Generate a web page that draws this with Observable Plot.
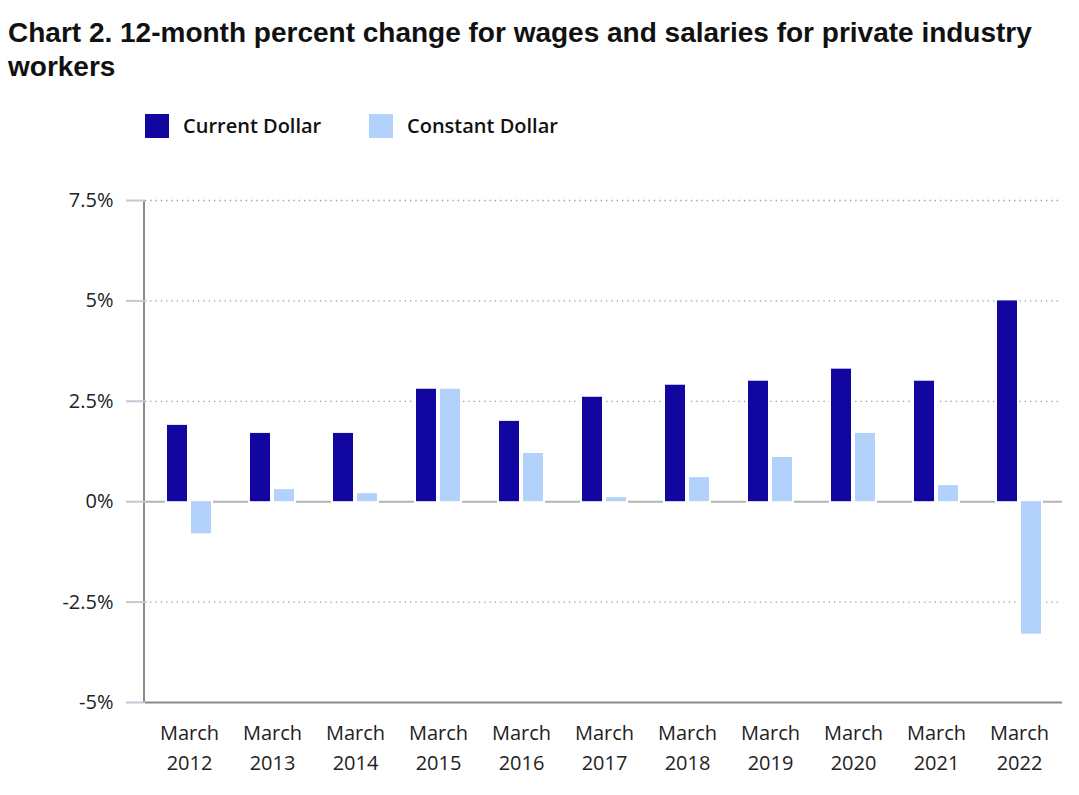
<!DOCTYPE html>
<html>
<head>
<meta charset="utf-8">
<script src="https://cdn.jsdelivr.net/npm/d3@7"></script>
<script src="https://cdn.jsdelivr.net/npm/@observablehq/plot@0.6"></script>
<style>
  html, body { margin: 0; padding: 0; background: white; }
  body { position: relative; width: 1079px; height: 795px; overflow: hidden; }
  #title { position: absolute; left: 8px; top: 16px; width: 1060px; font-family: "Liberation Sans", Arial, sans-serif; font-weight: bold; font-size: 28px; line-height: 34px; color: #111; }
  .sw { position: absolute; width: 24px; height: 24px; top: 114px; }
  .lt { position: absolute; top: 111px; font-family: "Open Sans", sans-serif; font-weight: 600; font-size: 20px; line-height: 30px; color: #111; }
  #chart { position: absolute; left: 0; top: 160px; }
</style>
</head>
<body>
<div id="title">Chart 2. 12-month percent change for wages and salaries for private industry workers</div>
<div id="legend"></div>
<div id="chart"></div>
<script>
const years = ["2012","2013","2014","2015","2016","2017","2018","2019","2020","2021","2022"];
const currentDollar = [1.9, 1.7, 1.7, 2.8, 2.0, 2.6, 2.9, 3.0, 3.3, 3.0, 5.0];
const constantDollar = [-0.8, 0.3, 0.2, 2.8, 1.2, 0.1, 0.6, 1.1, 1.7, 0.4, -3.3];
const seriesNames = ["Current Dollar", "Constant Dollar"];
const seriesColors = ["#1106a0", "#b2d2fb"];
const yTicks = [-5, -2.5, 0, 2.5, 5, 7.5];

// legend
const legend = document.getElementById("legend");
const swX = [145, 369], txX = [183, 407];
seriesNames.forEach((n, i) => {
  const s = document.createElement("div");
  s.className = "sw"; s.style.left = swX[i] + "px"; s.style.background = seriesColors[i];
  legend.appendChild(s);
  const t = document.createElement("div");
  t.className = "lt"; t.style.left = txX[i] + "px"; t.textContent = n;
  legend.appendChild(t);
});

const data = years.map((y, i) => ({year: y, current: currentDollar[i], constant: constantDollar[i]}));

const leftAxisLine = (index, scales, values, dims) => {
  const l = document.createElementNS("http://www.w3.org/2000/svg", "line");
  const x = dims.marginLeft - 1;
  l.setAttribute("x1", x); l.setAttribute("x2", x);
  l.setAttribute("y1", dims.marginTop); l.setAttribute("y2", dims.height - dims.marginBottom);
  l.setAttribute("stroke", "#8a8a8a"); l.setAttribute("stroke-width", 2);
  return l;
};

const chart = Plot.plot({
  width: 1079,
  height: 635,
  marginTop: 40,
  marginLeft: 145,
  marginRight: 17,
  marginBottom: 93,
  style: {fontFamily: "Open Sans, sans-serif", fontSize: "20px", color: "#222", background: "white", overflow: "visible"},
  x: {type: "band", domain: years, paddingInner: 0.472, paddingOuter: 0.24, label: null},
  y: {domain: [-5, 7.5], label: null},
  marks: [
    Plot.gridY(yTicks.filter(d => d !== 0 && d !== -5), {stroke: "#9a9a9a", strokeOpacity: 1, strokeWidth: 1.3, strokeDasharray: "1.3,4"}),
    Plot.ruleY([0], {stroke: "#b5b5b5", strokeWidth: 2}),
    Plot.ruleY([-5], {stroke: "#8a8a8a", strokeWidth: 2}),
    leftAxisLine,
    Plot.barY(data, {x: "year", y: "current", insetRight: 24, fill: "white", stroke: "white", strokeWidth: 4}),
    Plot.barY(data, {x: "year", y: "constant", insetLeft: 24, fill: "white", stroke: "white", strokeWidth: 4}),
    Plot.barY(data, {x: "year", y: "current", insetRight: 24, fill: seriesColors[0]}),
    Plot.barY(data, {x: "year", y: "constant", insetLeft: 24, fill: seriesColors[1]}),
    Plot.axisY({ticks: yTicks, tickFormat: d => d + "%", tickSize: 19, tickPadding: 13, stroke: "#c2c8d4", strokeWidth: 2, fill: "#222", fontSize: 20}),
    Plot.axisX({tickSize: 0, tickPadding: 16, tickFormat: d => "March\n" + d, fill: "#222", fontSize: 20, lineHeight: 1.5})
  ]
});
document.getElementById("chart").appendChild(chart);
</script>
</body>
</html>
